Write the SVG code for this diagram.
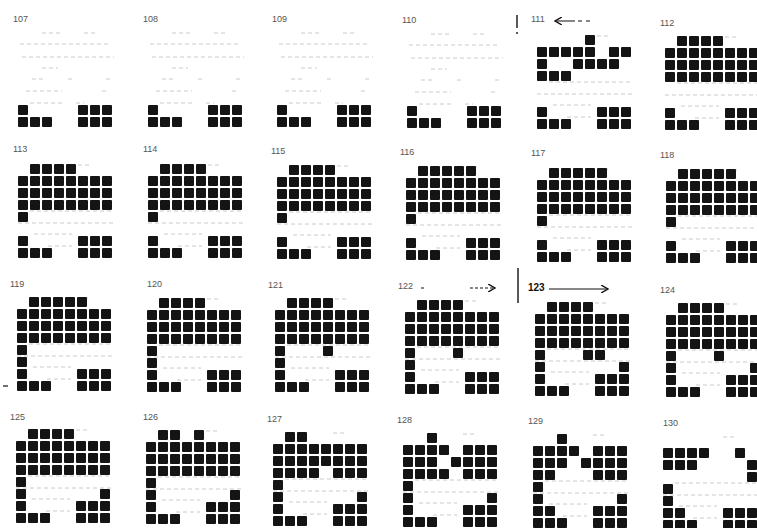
<svg xmlns="http://www.w3.org/2000/svg" xmlns:xlink="http://www.w3.org/1999/xlink" width="757" height="528" viewBox="0 0 757 528">
<style>
.lbl{font-family:"Liberation Sans",Arial,sans-serif;font-size:9px;fill:#555}
.blbl{font-family:"Liberation Sans",Arial,sans-serif;font-size:10px;fill:#111;font-weight:bold}
.sq{fill:#141414}
.nz{stroke:#a8a8a8;stroke-width:1;stroke-dasharray:4 3;fill:none;opacity:0.6}
.bar{stroke:#222;stroke-width:1.5;fill:none}
.arr{stroke:#111;stroke-width:1.2;fill:none}
</style>
<defs>
<rect id="s" class="sq" width="10" height="10" rx="1"/>
<g id="r8"><use href="#s"/><use href="#s" x="12"/><use href="#s" x="24"/><use href="#s" x="36"/><use href="#s" x="48"/><use href="#s" x="60"/><use href="#s" x="72"/><use href="#s" x="84"/></g>
<g id="full"><use href="#r8" y="12"/><use href="#r8" y="24"/><use href="#r8" y="36"/></g>
<g id="bot"><use href="#s" y="72"/><use href="#s" x="60" y="72"/><use href="#s" x="72" y="72"/><use href="#s" x="84" y="72"/><use href="#s" y="84"/><use href="#s" x="12" y="84"/><use href="#s" x="24" y="84"/><use href="#s" x="60" y="84"/><use href="#s" x="72" y="84"/><use href="#s" x="84" y="84"/></g>
<g id="t4"><use href="#s" x="12"/><use href="#s" x="24"/><use href="#s" x="36"/><use href="#s" x="48"/></g>
<g id="t5"><use href="#t4"/><use href="#s" x="60"/></g>
<g id="nze"><path class="nz" d="M24,0h20M66,0h12M2,11h90M4,24h92M24,35h16M14,46h12M50,46h4M88,46h6M8,58h36M84,58h6M12,70h34M58,70h8"/></g>
<g id="nzf"><path class="nz" d="M12,47h84M0,59h96M16,70h38M30,82h24M60,1h12"/></g>
<marker id="chev" viewBox="0 0 8 8" refX="7" refY="4" markerWidth="8" markerHeight="8" markerUnits="userSpaceOnUse" orient="auto"><path d="M0,0L7,4L0,8" fill="none" stroke="#111" stroke-width="1.4"/></marker>
</defs>
<rect width="757" height="528" fill="#fff"/>

<g id="p107" transform="translate(18,33)"><text class="lbl" x="-5" y="-11">107</text><use href="#nze"/><use href="#bot"/></g>
<g id="p108" transform="translate(148,33)"><text class="lbl" x="-5" y="-11">108</text><use href="#nze"/><use href="#bot"/></g>
<g id="p109" transform="translate(277,33)"><text class="lbl" x="-5" y="-11">109</text><use href="#nze"/><use href="#bot"/></g>
<g id="p110" transform="translate(407,34)"><text class="lbl" x="-5" y="-11">110</text><use href="#nze"/><use href="#bot"/></g>
<g id="p111" transform="translate(537,35)"><text class="lbl" x="-6" y="-13">111</text><use href="#nzf"/>
<use href="#s" x="48"/>
<use href="#s" y="12"/><use href="#s" x="12" y="12"/><use href="#s" x="24" y="12"/><use href="#s" x="36" y="12"/><use href="#s" x="48" y="12"/><use href="#s" x="72" y="12"/><use href="#s" x="84" y="12"/>
<use href="#s" y="24"/><use href="#s" x="36" y="24"/><use href="#s" x="48" y="24"/><use href="#s" x="60" y="24"/><use href="#s" x="72" y="24"/>
<use href="#s" y="36"/><use href="#s" x="12" y="36"/><use href="#s" x="24" y="36"/>
<use href="#bot"/></g>
<g id="p112" transform="translate(665,36)"><text class="lbl" x="-5" y="-10">112</text><use href="#nzf"/><use href="#t4"/><use href="#full"/><use href="#bot"/></g>

<g id="p113" transform="translate(18,164)"><text class="lbl" x="-5" y="-12">113</text><use href="#nzf"/><use href="#t4"/><use href="#full"/><use href="#s" y="48"/><use href="#bot"/></g>
<g id="p114" transform="translate(148,164)"><text class="lbl" x="-5" y="-12">114</text><use href="#nzf"/><use href="#t4"/><use href="#full"/><use href="#s" y="48"/><use href="#bot"/></g>
<g id="p115" transform="translate(277,165)"><text class="lbl" x="-6" y="-11">115</text><use href="#nzf"/><use href="#t4"/><use href="#full"/><use href="#s" y="48"/><use href="#bot"/></g>
<g id="p116" transform="translate(406,166)"><text class="lbl" x="-6" y="-11">116</text><use href="#nzf"/><use href="#t5"/><use href="#full"/><use href="#s" y="48"/><use href="#bot"/></g>
<g id="p117" transform="translate(537,168)"><text class="lbl" x="-6" y="-12">117</text><use href="#nzf"/><use href="#t5"/><use href="#full"/><use href="#s" y="48"/><use href="#bot"/></g>
<g id="p118" transform="translate(666,169)"><text class="lbl" x="-6" y="-11">118</text><use href="#nzf"/><use href="#t5"/><use href="#full"/><use href="#s" y="48"/><use href="#bot"/></g>

<g id="p119" transform="translate(17,297)"><text class="lbl" x="-7" y="-10">119</text><use href="#nzf"/><use href="#t5"/><use href="#full"/><use href="#s" y="48"/><use href="#s" y="60"/><use href="#bot"/></g>
<g id="p120" transform="translate(147,298)"><text class="lbl" x="0" y="-11">120</text><use href="#nzf"/><use href="#t4"/><use href="#full"/><use href="#s" y="48"/><use href="#s" y="60"/><use href="#bot"/></g>
<g id="p121" transform="translate(275,298)"><text class="lbl" x="-7" y="-10">121</text><use href="#nzf"/><use href="#t4"/><use href="#full"/><use href="#s" y="48"/><use href="#s" x="48" y="48"/><use href="#s" y="60"/><use href="#bot"/></g>
<g id="p122" transform="translate(405,300)"><text class="lbl" x="-7" y="-11">122</text><use href="#nzf"/><use href="#t4"/><use href="#full"/><use href="#s" y="48"/><use href="#s" x="48" y="48"/><use href="#s" y="60"/><use href="#bot"/></g>
<g id="p123" transform="translate(535,302)"><text class="blbl" x="-7" y="-11">123</text><use href="#nzf"/><use href="#t4"/><use href="#full"/><use href="#s" y="48"/><use href="#s" x="48" y="48"/><use href="#s" x="60" y="48"/><use href="#s" y="60"/><use href="#s" x="84" y="60"/><use href="#bot"/></g>
<g id="p124" transform="translate(666,303)"><text class="lbl" x="-6" y="-10">124</text><use href="#nzf"/><use href="#t4"/><use href="#full"/><use href="#s" y="48"/><use href="#s" x="48" y="48"/><use href="#s" y="60"/><use href="#s" x="84" y="60"/><use href="#bot"/></g>

<g id="p125" transform="translate(16,429)"><text class="lbl" x="-6" y="-9">125</text><use href="#nzf"/><use href="#t4"/><use href="#full"/><use href="#s" y="48"/><use href="#s" y="60"/><use href="#s" x="84" y="60"/><use href="#bot"/></g>
<g id="p126" transform="translate(146,430)"><text class="lbl" x="-3" y="-10">126</text><use href="#nzf"/><use href="#s" x="12"/><use href="#s" x="24"/><use href="#s" x="48"/><use href="#full"/><use href="#s" y="48"/><use href="#s" y="60"/><use href="#s" x="84" y="60"/><use href="#bot"/></g>
<g id="p127" transform="translate(273,432)"><text class="lbl" x="-6" y="-10">127</text><use href="#nzf"/><use href="#s" x="12"/><use href="#s" x="24"/><use href="#r8" y="12"/><use href="#r8" y="24"/>
<use href="#s" y="36"/><use href="#s" x="12" y="36"/><use href="#s" x="24" y="36"/><use href="#s" x="36" y="36"/><use href="#s" x="60" y="36"/><use href="#s" x="72" y="36"/><use href="#s" x="84" y="36"/>
<use href="#s" y="48"/><use href="#s" y="60"/><use href="#s" x="84" y="60"/><use href="#bot"/></g>
<g id="p128" transform="translate(403,433)"><text class="lbl" x="-6" y="-10">128</text><use href="#nzf"/><use href="#s" x="24"/>
<use href="#s" y="12"/><use href="#s" x="12" y="12"/><use href="#s" x="24" y="12"/><use href="#s" x="36" y="12"/><use href="#s" x="60" y="12"/><use href="#s" x="72" y="12"/><use href="#s" x="84" y="12"/>
<use href="#s" y="24"/><use href="#s" x="12" y="24"/><use href="#s" x="24" y="24"/><use href="#s" x="48" y="24"/><use href="#s" x="60" y="24"/><use href="#s" x="72" y="24"/><use href="#s" x="84" y="24"/>
<use href="#s" y="36"/><use href="#s" x="12" y="36"/><use href="#s" x="24" y="36"/><use href="#s" x="36" y="36"/><use href="#s" x="60" y="36"/><use href="#s" x="72" y="36"/><use href="#s" x="84" y="36"/>
<use href="#s" y="48"/><use href="#s" y="60"/><use href="#s" x="84" y="60"/><use href="#bot"/></g>
<g id="p129" transform="translate(533,434)"><text class="lbl" x="-5" y="-10">129</text><use href="#nzf"/><use href="#s" x="24"/>
<use href="#s" y="12"/><use href="#s" x="12" y="12"/><use href="#s" x="24" y="12"/><use href="#s" x="36" y="12"/><use href="#s" x="60" y="12"/><use href="#s" x="72" y="12"/><use href="#s" x="84" y="12"/>
<use href="#s" y="24"/><use href="#s" x="12" y="24"/><use href="#s" x="24" y="24"/><use href="#s" x="48" y="24"/><use href="#s" x="60" y="24"/><use href="#s" x="72" y="24"/><use href="#s" x="84" y="24"/>
<use href="#s" y="36"/><use href="#s" x="12" y="36"/><use href="#s" x="60" y="36"/><use href="#s" x="72" y="36"/><use href="#s" x="84" y="36"/>
<use href="#s" y="48"/><use href="#s" y="60"/><use href="#s" x="84" y="60"/><use href="#s" x="12" y="72"/><use href="#bot"/></g>
<g id="p130" transform="translate(663,436)"><text class="lbl" x="0" y="-10">130</text><use href="#nzf"/>
<use href="#s" y="12"/><use href="#s" x="12" y="12"/><use href="#s" x="24" y="12"/><use href="#s" x="36" y="12"/><use href="#s" x="72" y="12"/>
<use href="#s" y="24"/><use href="#s" x="12" y="24"/><use href="#s" x="24" y="24"/><use href="#s" x="84" y="24"/>
<use href="#s" x="84" y="36"/>
<use href="#s" y="48"/><use href="#s" y="60"/><use href="#s" x="12" y="72"/><use href="#bot"/></g>

<g id="connectors">
<path class="bar" d="M517,15V28M517,32V34"/>
<path class="bar" d="M518,268V303"/>
<path class="arr" d="M590,21h-4M582,21h-4M575,21h-20" marker-end="url(#chev)"/>
<path class="arr" d="M421,288h4M470,288h25" stroke-dasharray="3 2" marker-end="url(#chev)"/>
<path class="arr" d="M549,289H608" marker-end="url(#chev)"/>
<path class="arr" d="M3,386h5"/>
</g>
</svg>
